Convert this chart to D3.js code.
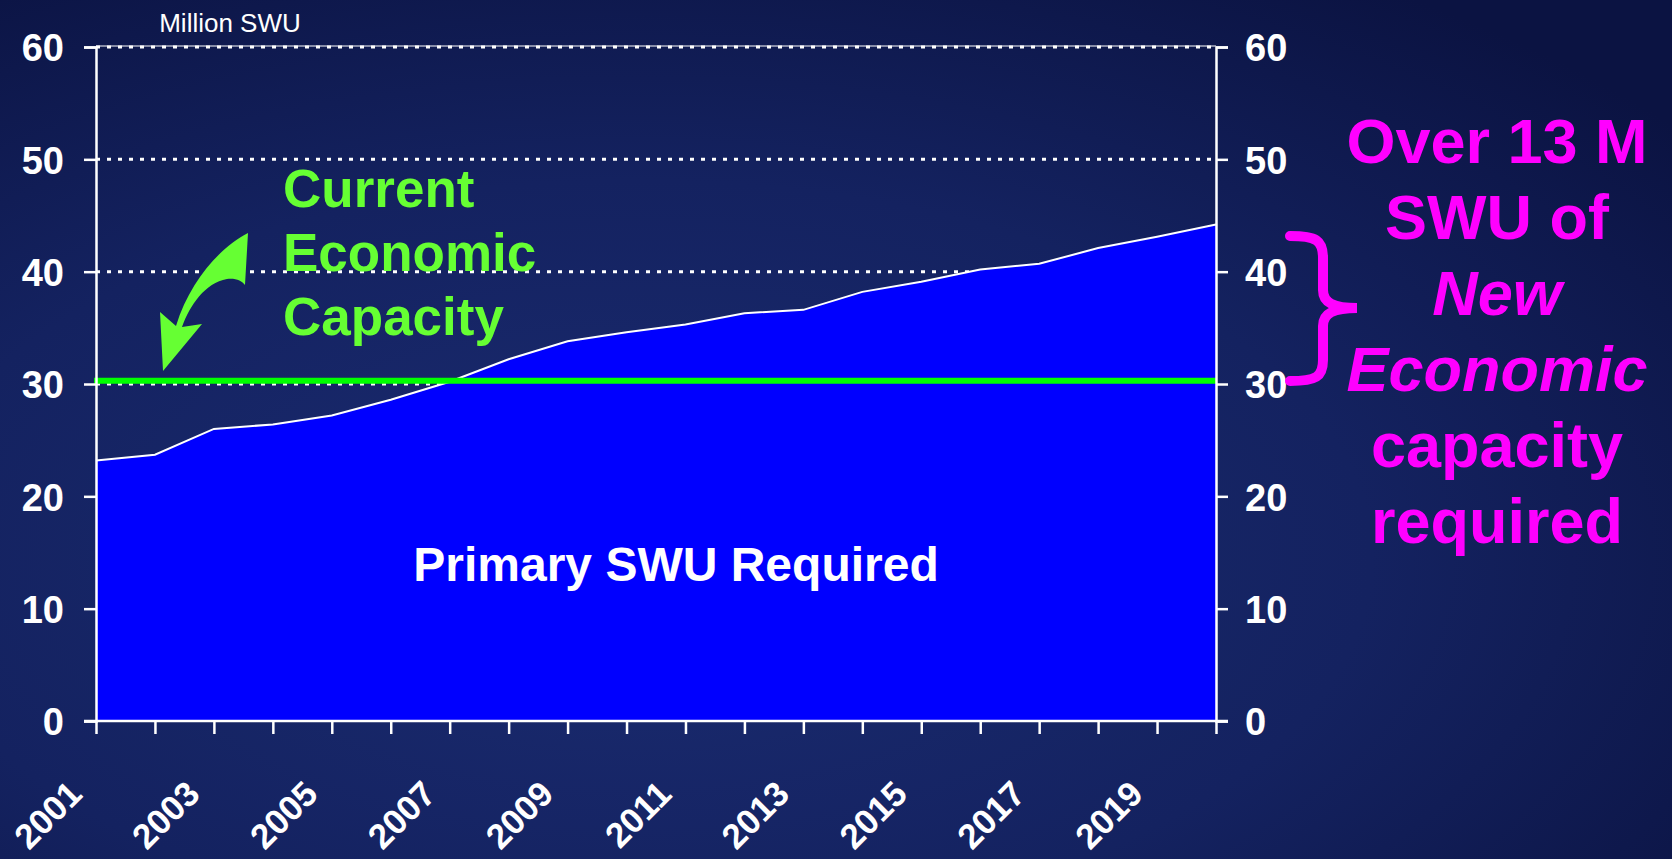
<!DOCTYPE html>
<html>
<head>
<meta charset="utf-8">
<script src="https://cdn.jsdelivr.net/npm/d3@7"></script>
<style>
  body { margin: 0; overflow: hidden; background: #101a50; }
  svg { display: block; }
  text { font-family: "Liberation Sans", Arial, sans-serif; }
</style>
</head>
<body>
<svg id="chart" width="1672" height="859"></svg>
<script>
// ---- data ----
const years = ['2001','2002','2003','2004','2005','2006','2007','2008','2009','2010',
               '2011','2012','2013','2014','2015','2016','2017','2018','2019','2020']
const primarySWU = [23.2, 23.7, 26.0, 26.4, 27.2, 28.6, 30.2, 32.2, 33.8, 34.6,
                    35.3, 36.3, 36.6, 38.2, 39.1, 40.2, 40.7, 42.1, 43.1, 44.2]
const economicCapacity = 30.3
const yTicks = [0, 10, 20, 30, 40, 50, 60]
const yearLabels = ['2001','2003','2005','2007','2009','2011','2013','2015','2017','2019']
const captionLines = ['Current', 'Economic', 'Capacity']
const noteLines = [
    { text: 'Over 13 M', italic: false },
    { text: 'SWU of', italic: false },
    { text: 'New', italic: true },
    { text: 'Economic', italic: true },
    { text: 'capacity', italic: false },
    { text: 'required', italic: false }
]

let svg = d3.select('#chart')

/* -------------- background -------------- */
let defs = svg.append('defs')
let bg = defs.append('radialGradient')
    .attr('id', 'bg')
    .attr('cx', '38%').attr('cy', '65%').attr('r', '80%')
bg.append('stop').attr('offset', '0%').attr('stop-color', '#1b2c72')
bg.append('stop').attr('offset', '55%').attr('stop-color', '#142260')
bg.append('stop').attr('offset', '100%').attr('stop-color', '#0b1342')

svg.append('rect')
    .attr('width', 1672).attr('height', 859)
    .attr('fill', 'url(#bg)')

/* -------------- scales -------------- */
let x = d3.scalePoint().domain(years).range([96, 1216])
let y = d3.scaleLinear().domain([0, 60]).range([721, 47])

/* -------------- grid -------------- */
svg.append('g')
    .selectAll('line')
    .data(yTicks.filter(function (d) { return d > 0 }))
    .enter().append('line')
    .attr('x1', 96).attr('x2', 1216)
    .attr('y1', function (d) { return y(d) })
    .attr('y2', function (d) { return y(d) })
    .attr('stroke', '#fff')
    .attr('stroke-width', 3)
    .attr('stroke-dasharray', '4,7')

svg.append('line')
    .attr('x1', 96).attr('x2', 1216)
    .attr('y1', y(60) - 1).attr('y2', y(60) - 1)
    .attr('stroke', '#fff').attr('stroke-width', 1)

/* -------------- area -------------- */
let area = d3.area()
    .x(function (d, i) { return x(years[i]) })
    .y0(y(0))
    .y1(function (d) { return y(d) })

let line = d3.line()
    .x(function (d, i) { return x(years[i]) })
    .y(function (d) { return y(d) })

svg.append('path')
    .datum(primarySWU)
    .attr('d', area)
    .attr('fill', '#0000ff')

svg.append('path')
    .datum(primarySWU)
    .attr('d', line)
    .attr('fill', 'none')
    .attr('stroke', '#fff')
    .attr('stroke-width', 2)

/* -------------- capacity line -------------- */
svg.append('line')
    .attr('x1', 94).attr('x2', 1216)
    .attr('y1', y(economicCapacity)).attr('y2', y(economicCapacity))
    .attr('stroke', '#00ff00')
    .attr('stroke-width', 6)

/* -------------- axes -------------- */
let leftAxis = svg.append('g')
    .attr('transform', 'translate(96,0)')
    .call(d3.axisLeft(y).tickValues(yTicks).tickSize(12).tickPadding(20))
let rightAxis = svg.append('g')
    .attr('transform', 'translate(1216,0)')
    .call(d3.axisRight(y).tickValues(yTicks).tickSize(12).tickPadding(17))
let bottomAxis = svg.append('g')
    .attr('transform', 'translate(0,' + y(0) + ')')
    .call(d3.axisBottom(x).tickSize(13).tickFormat(''))

for (let ax of [leftAxis, rightAxis, bottomAxis]) {
    ax.select('.domain').attr('stroke', '#fff').attr('stroke-width', 2.5)
    ax.selectAll('.tick line').attr('stroke', '#fff').attr('stroke-width', 2.5)
    ax.selectAll('.tick text')
        .attr('fill', '#fff')
        .attr('font-size', 38)
        .attr('font-weight', 'bold')
        .attr('font-family', '"Liberation Sans", Arial, sans-serif')
        .attr('dy', '0.36em')
}
// bottom axis runs from the left tick to the right tick
bottomAxis.select('.domain').attr('d', 'M84,0H1228')

svg.append('g')
    .selectAll('text')
    .data(yearLabels)
    .enter().append('text')
    .attr('transform', function (d) { return 'translate(' + (x(d) - 12) + ',796) rotate(-45)' })
    .attr('text-anchor', 'end')
    .attr('fill', '#fff')
    .attr('font-size', 35)
    .attr('font-weight', 'bold')
    .text(function (d) { return d })

svg.append('text')
    .attr('x', 230).attr('y', 32)
    .attr('text-anchor', 'middle')
    .attr('fill', '#fff')
    .attr('font-size', 26)
    .text('Million SWU')

/* -------------- annotations -------------- */
svg.append('text')
    .attr('x', 676).attr('y', 581)
    .attr('text-anchor', 'middle')
    .attr('fill', '#fff')
    .attr('font-size', 48)
    .attr('font-weight', 'bold')
    .text('Primary SWU Required')

svg.append('g')
    .selectAll('text')
    .data(captionLines)
    .enter().append('text')
    .attr('x', 283)
    .attr('y', function (d, i) { return 207 + i * 64 })
    .attr('fill', '#66ff33')
    .attr('font-size', 53)
    .attr('font-weight', 'bold')
    .text(function (d) { return d })

svg.append('path')
    .attr('d', 'M248,233 C222,246 190,280 176,326 L160,312 L163,371 L202,324 L182,327 C190,305 205,283 227,279 C236,278 242,281 245,285 Z')
    .attr('fill', '#66ff33')

svg.append('g')
    .selectAll('text')
    .data(noteLines)
    .enter().append('text')
    .attr('x', 1497)
    .attr('y', function (d, i) { return 163 + i * 76 })
    .attr('text-anchor', 'middle')
    .attr('fill', '#ff00ff')
    .attr('font-size', 63)
    .attr('font-weight', 'bold')
    .attr('font-style', function (d) { return d.italic ? 'italic' : 'normal' })
    .text(function (d) { return d.text })

svg.append('path')
    .attr('d', 'M1290,236 C1316,236 1323,240 1323,258 L1323,290 C1323,303 1334,308 1357,308 C1334,308 1323,313 1323,326 L1323,360 C1323,377 1316,381 1290,381')
    .attr('fill', 'none')
    .attr('stroke', '#ff00ff')
    .attr('stroke-width', 10)
    .attr('stroke-linecap', 'round')
</script>
</body>
</html>
